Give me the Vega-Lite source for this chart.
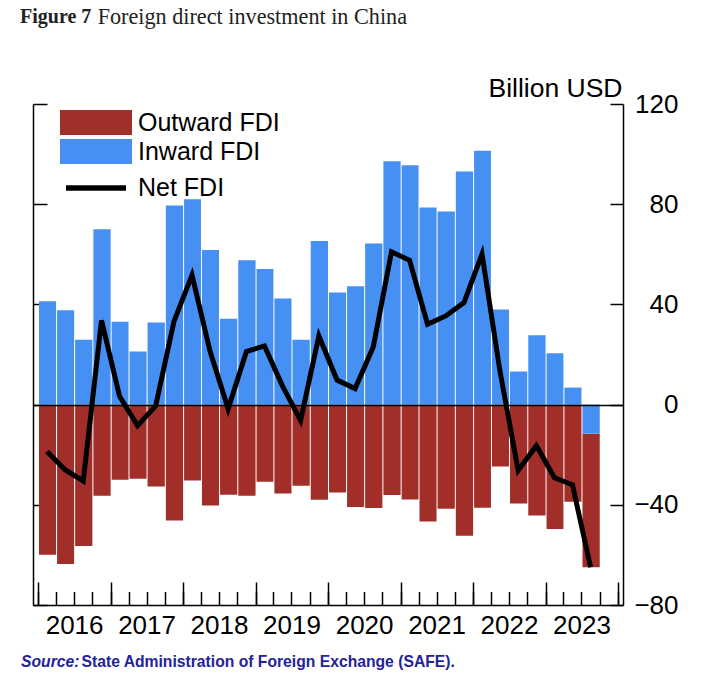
{
  "$schema": "https://vega.github.io/schema/vega-lite/v6.json",
  "autosize": "none",
  "width": 590,
  "height": 501,
  "padding": {"left": 33, "top": 104, "right": 85, "bottom": 76},
  "background": "white",
  "title": {
    "text": "Figure 7",
    "subtitle": "\u200b\u00a0\u00a0\u00a0\u00a0\u00a0\u00a0\u00a0\u00a0\u00a0\u00a0\u00a0\u00a0\u00a0\u00a0Foreign direct investment in China",
    "anchor": "start",
    "frame": "group",
    "dx": -13,
    "offset": 46,
    "font": "Liberation Serif",
    "fontSize": 20,
    "fontWeight": "bold",
    "color": "#222222",
    "subtitleFont": "Liberation Serif",
    "subtitleFontSize": 22.2,
    "subtitleColor": "#222222",
    "subtitlePadding": -21.5
  },
  "data": {
    "values": [
      {"quarter": "2016-01-01", "Inward FDI": 41.3, "Outward FDI": -59.9, "net": -18.7},
      {"quarter": "2016-04-01", "Inward FDI": 37.7, "Outward FDI": -63.6, "net": -26.0},
      {"quarter": "2016-07-01", "Inward FDI": 25.9, "Outward FDI": -56.4, "net": -30.5},
      {"quarter": "2016-10-01", "Inward FDI": 70.0, "Outward FDI": -36.4, "net": 33.6},
      {"quarter": "2017-01-01", "Inward FDI": 33.1, "Outward FDI": -30.0, "net": 3.3},
      {"quarter": "2017-04-01", "Inward FDI": 21.2, "Outward FDI": -29.6, "net": -8.4},
      {"quarter": "2017-07-01", "Inward FDI": 32.8, "Outward FDI": -32.7, "net": -0.5},
      {"quarter": "2017-10-01", "Inward FDI": 79.5, "Outward FDI": -46.3, "net": 33.2},
      {"quarter": "2018-01-01", "Inward FDI": 82.0, "Outward FDI": -30.3, "net": 51.7},
      {"quarter": "2018-04-01", "Inward FDI": 61.7, "Outward FDI": -40.3, "net": 21.4},
      {"quarter": "2018-07-01", "Inward FDI": 34.3, "Outward FDI": -36.0, "net": -1.7},
      {"quarter": "2018-10-01", "Inward FDI": 57.6, "Outward FDI": -36.4, "net": 21.2},
      {"quarter": "2019-01-01", "Inward FDI": 54.1, "Outward FDI": -30.8, "net": 23.4},
      {"quarter": "2019-04-01", "Inward FDI": 42.4, "Outward FDI": -35.5, "net": 7.5},
      {"quarter": "2019-07-01", "Inward FDI": 25.9, "Outward FDI": -32.4, "net": -6.3},
      {"quarter": "2019-10-01", "Inward FDI": 65.3, "Outward FDI": -38.0, "net": 27.4},
      {"quarter": "2020-01-01", "Inward FDI": 44.8, "Outward FDI": -35.1, "net": 9.8},
      {"quarter": "2020-04-01", "Inward FDI": 47.2, "Outward FDI": -40.9, "net": 6.4},
      {"quarter": "2020-07-01", "Inward FDI": 64.3, "Outward FDI": -41.3, "net": 23.0},
      {"quarter": "2020-10-01", "Inward FDI": 97.1, "Outward FDI": -36.1, "net": 61.0},
      {"quarter": "2021-01-01", "Inward FDI": 95.5, "Outward FDI": -37.9, "net": 57.6},
      {"quarter": "2021-04-01", "Inward FDI": 78.7, "Outward FDI": -46.7, "net": 32.1},
      {"quarter": "2021-07-01", "Inward FDI": 77.1, "Outward FDI": -41.6, "net": 35.4},
      {"quarter": "2021-10-01", "Inward FDI": 93.1, "Outward FDI": -52.4, "net": 40.7},
      {"quarter": "2022-01-01", "Inward FDI": 101.3, "Outward FDI": -41.2, "net": 60.1},
      {"quarter": "2022-04-01", "Inward FDI": 38.0, "Outward FDI": -24.7, "net": 13.3},
      {"quarter": "2022-07-01", "Inward FDI": 13.2, "Outward FDI": -39.5, "net": -26.3},
      {"quarter": "2022-10-01", "Inward FDI": 27.7, "Outward FDI": -44.3, "net": -16.4},
      {"quarter": "2023-01-01", "Inward FDI": 20.5, "Outward FDI": -49.7, "net": -29.2},
      {"quarter": "2023-04-01", "Inward FDI": 6.8, "Outward FDI": -38.8, "net": -32.0},
      {"quarter": "2023-07-01", "Inward FDI": -11.6, "Outward FDI": -53.3, "net": -64.9}
    ]
  },
  "layer": [
    {
      "transform": [{"fold": ["Outward FDI", "Inward FDI"], "as": ["series", "value"]}],
      "mark": {"type": "bar", "timeUnitBandSize": 0.92},
      "encoding": {
        "x": {
          "field": "quarter",
          "type": "temporal",
          "timeUnit": "utcyearquarter",
          "scale": {
            "type": "utc",
            "domain": [
              {"year": 2016, "month": 1, "date": 1, "utc": true},
              {"year": 2024, "month": 1, "date": 1, "utc": true}
            ],
            "nice": false,
            "padding": 5
          },
          "axis": {
            "orient": "bottom",
            "tickCount": {"interval": "month", "step": 3},
            "tickSize": -13.5,
            "tickColor": "black",
            "tickWidth": 1.5,
            "domainColor": "black",
            "domainWidth": 1.5,
            "grid": false,
            "labelExpr": "utcmonth(datum.value) === 6 ? utcFormat(datum.value, '%Y') : ''",
            "labelPadding": 21,
            "labelFont": "Liberation Sans",
            "labelFontSize": 26,
            "labelColor": "black",
            "labelOverlap": false,
            "labelFlush": false,
            "labelBound": false,
            "title": "State Administration of Foreign Exchange (SAFE).",
            "titleX": 48,
            "titleY": 61,
            "titleAlign": "left",
            "titleAnchor": "start",
            "titleBaseline": "alphabetic",
            "titleFont": "Liberation Sans",
            "titleFontSize": 15.7,
            "titleFontWeight": "bold",
            "titleColor": "#23239b"
          }
        },
        "y": {
          "field": "value",
          "type": "quantitative",
          "stack": "zero",
          "scale": {"domain": [-80, 120], "nice": false, "zero": false},
          "axis": {
            "orient": "left",
            "values": [-80, -40, 0, 40, 80, 120],
            "labels": false,
            "grid": false,
            "tickSize": -14,
            "tickColor": "black",
            "tickWidth": 1.5,
            "domainColor": "black",
            "domainWidth": 1.5,
            "title": "Source:",
            "titleAngle": 0,
            "titleX": -12.5,
            "titleY": 562,
            "titleAlign": "left",
            "titleBaseline": "alphabetic",
            "titleFont": "Liberation Sans",
            "titleFontSize": 15.7,
            "titleFontWeight": "bold",
            "titleFontStyle": "italic",
            "titleColor": "#23239b"
          }
        },
        "color": {
          "field": "series",
          "type": "nominal",
          "scale": {
            "domain": ["Outward FDI", "Inward FDI", "Net FDI"],
            "range": ["#a22e29", "#4590f2", "#000000"]
          },
          "legend": {
            "orient": "none",
            "legendX": 50.5,
            "legendY": 6,
            "title": null,
            "padding": 0,
            "rowPadding": 3,
            "symbolSize": 625,
            "labelFont": "Liberation Sans",
            "labelFontSize": 25,
            "labelColor": "black",
            "labelOffset": 29.5,
            "labelLimit": 400,
            "encode": {
              "symbols": {
                "update": {
                  "shape": {"signal": "datum.value === 'Net FDI' ? 'M-2.4,0.38H2.4V0.82H-2.4Z' : 'M-2.88,-1H2.88V1H-2.88Z'"},
                  "fill": {"scale": "color", "field": "value"},
                  "stroke": {"value": "transparent"},
                  "strokeWidth": {"value": 0},
                  "opacity": {"value": 1}
                }
              },
              "labels": {
                "update": {
                  "dy": {"signal": "datum.value === 'Net FDI' ? 7.5 : 0"}
                }
              }
            }
          }
        },
        "order": {"field": "series", "sort": "ascending"}
      }
    },
    {
      "mark": {"type": "line", "strokeWidth": 5},
      "encoding": {
        "x": {
          "field": "quarter",
          "type": "temporal",
          "timeUnit": "utcyearquarter",
          "bandPosition": 0.5,
          "axis": {
            "orient": "bottom",
            "tickCount": {"interval": "year", "step": 1},
            "tickSize": -23,
            "tickColor": "black",
            "tickWidth": 1.5,
            "domain": false,
            "grid": false,
            "labels": false,
            "title": null
          }
        },
        "y": {
          "field": "net",
          "type": "quantitative",
          "axis": {
            "orient": "right",
            "values": [-80, -40, 0, 40, 80, 120],
            "grid": true,
            "gridColor": {"condition": {"test": "datum.value === 0", "value": "black"}, "value": "transparent"},
            "gridWidth": 1.5,
            "zindex": 1,
            "tickSize": -13,
            "tickColor": "black",
            "tickWidth": 1.5,
            "domainColor": "black",
            "domainWidth": 1.5,
            "labelAlign": "right",
            "labelBaseline": "middle",
            "labelPadding": 68,
            "labelFont": "Liberation Sans",
            "labelFontSize": 26,
            "labelColor": "black",
            "title": "Billion USD",
            "titleAngle": 0,
            "titleX": -1,
            "titleY": -7.5,
            "titleAlign": "right",
            "titleBaseline": "alphabetic",
            "titleFont": "Liberation Sans",
            "titleFontSize": 26.5,
            "titleFontWeight": "normal",
            "titleColor": "black"
          }
        },
        "color": {"datum": "Net FDI"}
      }
    }
  ],
  "resolve": {"scale": {"y": "shared", "x": "shared"}, "axis": {"y": "independent", "x": "independent"}},
  "config": {
    "view": {"stroke": null}
  }
}
